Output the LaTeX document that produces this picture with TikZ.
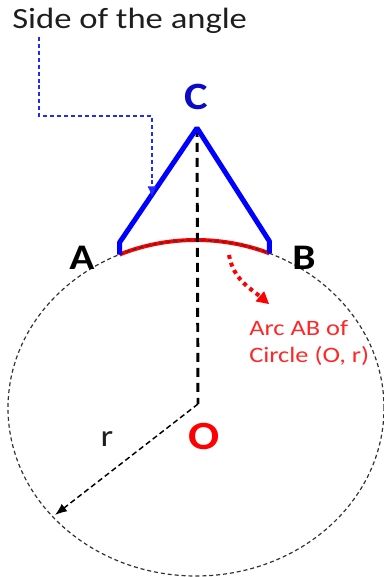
\documentclass[tikz,border=0pt]{standalone}
\usepackage{fontspec}
\setmainfont{Carlito}
\usepackage{tikz}
\usetikzlibrary{arrows.meta}
\definecolor{angblue}{RGB}{0,0,255}
\definecolor{angnavy}{RGB}{10,10,200}
\definecolor{angred}{RGB}{255,0,0}
\definecolor{angpink}{RGB}{255,40,40}
\definecolor{angink}{RGB}{30,30,30}
\newcommand{\hstretch}[2][1.18]{\scalebox{#1}[1]{#2}}
\tikzset{
  angside/.style={line width=3.75pt, draw=angblue, line cap=butt, line join=bevel},
  angarc/.style={line width=3pt, draw=angred, line cap=butt},
  angcirc/.style={line width=0.9pt, draw=black!80, dash pattern=on 3pt off 2.2pt},
  angaxis/.style={line width=2.2pt, draw=black, dash pattern=on 6.75pt off 4.5pt},
  angrad/.style={line width=1.1pt, draw=black, dash pattern=on 4pt off 2.5pt, -{Latex[length=9pt,width=7pt]}},
  angcall/.style={line width=1.1pt, draw=angblue!85, dash pattern=on 3pt off 2.2pt, -{Latex[length=8pt,width=7pt]}},
  angnote/.style={line width=3pt, draw=angred, dash pattern=on 3pt off 3pt, -{Triangle[length=9pt,width=10pt,line width=0pt]}},
  angpt/.style={font=\fontsize{27}{27}\selectfont\bfseries, inner sep=0pt},
}
\begin{document}
\begin{tikzpicture}[x=0.75pt, y=0.75pt]
\useasboundingbox (0,0) rectangle (384,577);
% circle (O, r)
\coordinate (ctr) at (196,169);
\coordinate (O) at (198,173);
\coordinate (C) at (197,449);
\coordinate (A) at ([shift={(114:188 and 168)}]ctr);
\coordinate (B) at ([shift={(67:188 and 168)}]ctr);
\coordinate (rtip) at (55,62);
\draw[angcirc] (ctr) ellipse [x radius=188, y radius=168];
\draw[angarc] (A) arc[start angle=114, end angle=67, x radius=188, y radius=168];
\draw[angcirc] (A) arc[start angle=114, end angle=67, x radius=188, y radius=168];
\draw[angaxis] (C) -- (O);
\draw[angrad] (O) -- (rtip);
% sides of the angle
\draw[angside] (A) -- ([yshift=9pt]A) -- (C) -- ([yshift=9pt]B) -- (B);
% labels
\node[angpt, text=angnavy, font=\fontsize{29}{29}\selectfont\bfseries] (lc) at (196,480) {\hstretch[1.15]{C}};
\node[angpt, text=black] (la) at (82,319) {\hstretch[1.15]{A}};
\node[angpt, text=black] (lb) at (304,319) {\hstretch[1.15]{B}};
\node[angpt, text=angred, font=\fontsize{30}{30}\selectfont\bfseries] (lo) at (204,140) {\hstretch[1.15]{O}};
\node[inner sep=0pt, text=angink, font=\fontsize{23}{23}\selectfont] (lr) at (107,138) {\hstretch{r}};
% callouts
\node[anchor=base west, inner sep=0pt, text=angink, font=\fontsize{22}{22}\selectfont] (side) at (12,548) {\hstretch{Side of the angle}};
\coordinate (bend1) at (39,461);
\coordinate (bend2) at (152,461);
\coordinate (sidetip) at (152,380);
\draw[angcall] ([yshift=-2pt]side.south west -| bend1) -- (bend1) -- (bend2) -- (sidetip);
\node[anchor=north west, inner sep=0pt, align=left, text=angpink, font=\fontsize{16.5}{20}\selectfont] (note) at (249,257) {\hstretch[1.2]{Arc AB of}\\ \hstretch[1.2]{Circle (O, r)}};
\coordinate (arcpt) at (229,322);
\coordinate (notetip) at (269,273);
\draw[angnote] (arcpt) to[out=-80, in=140] (notetip);
\end{tikzpicture}
\end{document}
